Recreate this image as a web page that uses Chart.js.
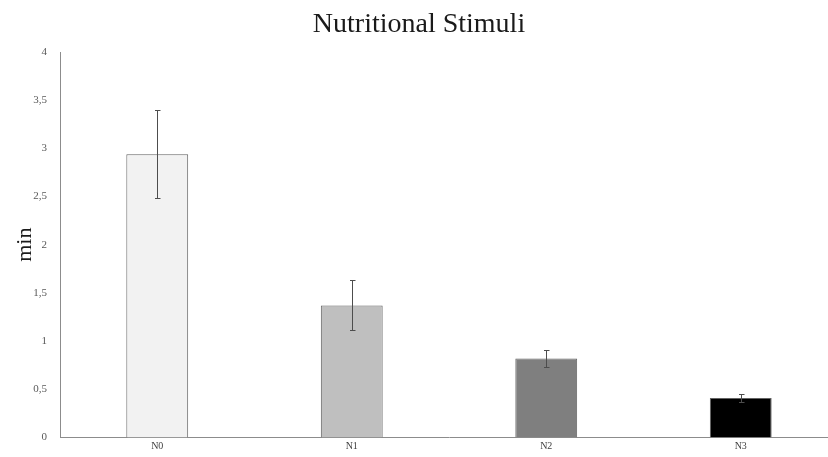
<!DOCTYPE html>
<html>
<head>
<meta charset="utf-8">
<script src="https://cdn.jsdelivr.net/npm/chart.js@4"></script>
<style>
  html, body { margin: 0; padding: 0; background: #ffffff; overflow: hidden; }
  #wrap { width: 828px; height: 457px; position: relative; overflow: hidden; }
  #c { position: absolute; left: 0; top: 0; }
</style>
</head>
<body>
<div id="wrap"><canvas id="c" width="838" height="457"></canvas></div>
<script>
const categories = ['N0', 'N1', 'N2', 'N3'];
const values = [2.94, 1.37, 0.82, 0.41];
const errors = [0.46, 0.26, 0.09, 0.045];
const barColors = ['#f2f2f2', '#bfbfbf', '#7f7f7f', '#000000'];
const yTickLabels = ['0', '0,5', '1', '1,5', '2', '2,5', '3', '3,5', '4'];
const chartTitle = 'Nutritional Stimuli';
const yAxisTitle = 'min';

const errorBarPlugin = {
  id: 'errorBars',
  afterDatasetsDraw(chart) {
    const ctx = chart.ctx;
    const meta = chart.getDatasetMeta(0);
    const yScale = chart.scales.y;
    ctx.save();
    ctx.strokeStyle = '#4d4d4d';
    ctx.lineWidth = 1;
    meta.data.forEach((bar, i) => {
      const x = Math.round(bar.x) + 0.5;
      const yT = Math.round(yScale.getPixelForValue(values[i] + errors[i])) + 0.5;
      const yB = Math.round(yScale.getPixelForValue(values[i] - errors[i])) + 0.5;
      ctx.beginPath();
      ctx.moveTo(x, yT); ctx.lineTo(x, yB);
      ctx.moveTo(x - 2.5, yT); ctx.lineTo(x + 3, yT);
      ctx.moveTo(x - 2.5, yB); ctx.lineTo(x + 3, yB);
      ctx.stroke();
    });
    ctx.restore();
  }
};

new Chart(document.getElementById('c'), {
  type: 'bar',
  data: {
    labels: categories,
    datasets: [{
      data: values,
      backgroundColor: barColors,
      borderColor: '#626262',
      borderWidth: 1,
      barPercentage: 0.318,
      categoryPercentage: 1.0
    }]
  },
  options: {
    responsive: false,
    animation: false,
    devicePixelRatio: 1,
    layout: { padding: { left: 0, right: 0, top: 0, bottom: 0 } },
    plugins: {
      legend: { display: false },
      tooltip: { enabled: false },
      title: {
        display: true,
        text: chartTitle,
        color: '#1a1a1a',
        font: { family: 'Liberation Serif', size: 28, weight: 'normal', lineHeight: 1.2 },
        padding: { top: 8, bottom: 10.4 }
      }
    },
    scales: {
      x: {
        grid: { display: false, drawTicks: false },
        border: { display: true, color: '#8c8c8c', width: 1 },
        ticks: { color: '#404040', font: { family: 'Liberation Serif', size: 10 }, padding: 3 },
        afterFit(scale) { scale.height = 18; }
      },
      y: {
        min: 0,
        max: 4,
        grid: { display: false, drawTicks: false },
        border: { display: true, color: '#8c8c8c', width: 1 },
        ticks: {
          stepSize: 0.5,
          color: '#595959',
          font: { family: 'Liberation Serif', size: 11 },
          padding: 13,
          callback: function(value, index) { return yTickLabels[index]; }
        },
        title: {
          display: true,
          text: yAxisTitle,
          color: '#1a1a1a',
          font: { family: 'Liberation Serif', size: 22, lineHeight: 1.2 },
          padding: { top: 12, bottom: 0 }
        },
        afterFit(scale) { scale.width = 60; }
      }
    }
  },
  plugins: [errorBarPlugin]
});
</script>
</body>
</html>
